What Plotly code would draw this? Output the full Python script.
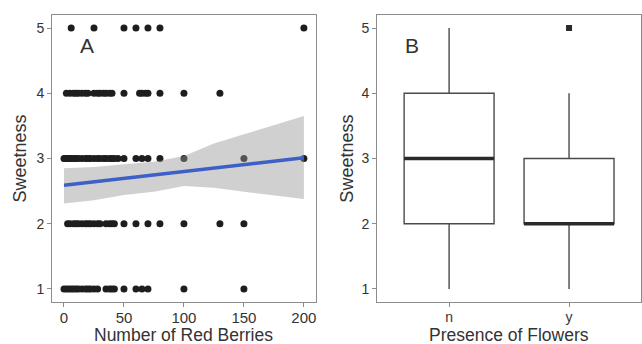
import plotly.graph_objects as go

# ---------------- data ----------------
# Panel A: Number of red berries at each sweetness level
sweet_levels = [5, 4, 3, 2, 1]
berries_s5 = [6, 25, 50, 60, 70, 80, 200]
berries_s4 = [2, 5, 8, 10, 12, 15, 18, 20, 25, 28, 30, 33, 35, 38, 40, 50, 63, 65, 68, 70, 80, 100, 130]
berries_s3 = [0, 1, 2, 3, 5, 6, 8, 10, 12, 15, 18, 20, 22, 25, 28, 30, 33, 35, 38, 40, 42, 45,
              50, 60, 65, 70, 80, 100, 150, 200]
berries_s2 = [3, 5, 8, 10, 12, 15, 18, 20, 22, 25, 28, 30, 35, 38, 40, 42, 50, 60, 70, 80, 100, 130, 150]
berries_s1 = [0, 2, 4, 6, 8, 10, 12, 15, 18, 20, 22, 25, 28, 35, 38, 40, 42, 50, 60, 65, 70, 100, 150]

# linear fit
fit_line_x = [0, 200]
fit_line_y = [2.59, 3.01]
band_x = [0, 25, 50, 75, 100, 125, 150, 175, 200]
band_upper = [2.85, 2.87, 2.91, 2.95, 3.04, 3.23, 3.37, 3.51, 3.65]
band_lower = [2.31, 2.36, 2.44, 2.49, 2.58, 2.55, 2.49, 2.44, 2.38]

# Panel B: box plot statistics
flower_cats = ["n", "y"]
box_min = [1, 1]
box_q1 = [2, 2]
box_median = [3, 2]
box_q3 = [4, 3]
box_max = [5, 4]
outlier_cat = ["y"]
outlier_val = [5]

x_ticks_a = [0, 50, 100, 150, 200]
y_ticks = [1, 2, 3, 4, 5]

# ---------------- styles ----------------
FONT = "Liberation Sans, Arial, sans-serif"
TEXT = "#333333"
BORDER = "#8c8c8c"
POINT = "#1e1e1e"

pts_x, pts_y = [], []
for lvl, vals in zip(sweet_levels, [berries_s5, berries_s4, berries_s3, berries_s2, berries_s1]):
    pts_x += vals
    pts_y += [lvl] * len(vals)

fig = go.Figure()

# scatter points
fig.add_trace(go.Scatter(x=pts_x, y=pts_y, mode="markers",
                         marker=dict(size=7, color=POINT, line=dict(width=0)),
                         xaxis="x", yaxis="y", showlegend=False, hoverinfo="skip"))
# confidence band
fig.add_trace(go.Scatter(x=band_x, y=band_lower, mode="lines", line=dict(width=0),
                         xaxis="x", yaxis="y", showlegend=False, hoverinfo="skip"))
fig.add_trace(go.Scatter(x=band_x, y=band_upper, mode="lines", line=dict(width=0),
                         fill="tonexty", fillcolor="rgba(150,150,150,0.45)",
                         xaxis="x", yaxis="y", showlegend=False, hoverinfo="skip"))
# fit line
fig.add_trace(go.Scatter(x=fit_line_x, y=fit_line_y, mode="lines",
                         line=dict(color="#3d5fc8", width=3.5),
                         xaxis="x", yaxis="y", showlegend=False, hoverinfo="skip"))

# box plots
BOX_W = 0.75
cat_pos = list(range(len(flower_cats)))
for i in cat_pos:
    fig.add_trace(go.Box(x=[i], q1=[box_q1[i]], median=[box_median[i]], q3=[box_q3[i]],
                         lowerfence=[box_min[i]], upperfence=[box_max[i]],
                         width=BOX_W, whiskerwidth=0, fillcolor="white",
                         line=dict(color="#4a4a4a", width=1.4), boxpoints=False,
                         xaxis="x2", yaxis="y2", showlegend=False, hoverinfo="skip"))
    fig.add_trace(go.Scatter(x=[i - BOX_W / 2, i + BOX_W / 2], y=[box_median[i]] * 2, mode="lines",
                             line=dict(color="#2a2a2a", width=3.5),
                             xaxis="x2", yaxis="y2", showlegend=False, hoverinfo="skip"))
fig.add_trace(go.Scatter(x=[flower_cats.index(c) for c in outlier_cat], y=outlier_val, mode="markers",
                         marker=dict(size=6, color="#2a2a2a", symbol="square"),
                         xaxis="x2", yaxis="y2", showlegend=False, hoverinfo="skip"))

axis_common = dict(showline=True, mirror=True, linecolor=BORDER, linewidth=1,
                   ticks="outside", ticklen=4, tickcolor=BORDER, tickwidth=1,
                   showgrid=False, zeroline=False, automargin=False)

XDOM_A = [0, 0.448]
XDOM_B = [0.552, 1]

fig.update_layout(
    width=642, height=344,
    margin=dict(l=52, r=1, t=15, b=42),
    paper_bgcolor="white", plot_bgcolor="white",
    font=dict(family=FONT, color=TEXT),
    xaxis=dict(domain=XDOM_A, range=[-10, 210], tickvals=x_ticks_a,
               tickfont=dict(size=15, color=TEXT), ticklabelstandoff=-2,
               anchor="y", **axis_common),
    yaxis=dict(domain=[0, 1], range=[0.8, 5.2], tickvals=y_ticks,
               tickfont=dict(size=14, color=TEXT), anchor="x", **axis_common),
    xaxis2=dict(domain=XDOM_B, range=[-0.6, 1.6], tickvals=cat_pos, ticktext=flower_cats,
                tickfont=dict(size=14, color=TEXT), ticklabelstandoff=-2,
                anchor="y2", **axis_common),
    yaxis2=dict(domain=[0, 1], range=[0.8, 5.2], tickvals=y_ticks,
                tickfont=dict(size=14, color=TEXT), anchor="x2", **axis_common),
    annotations=[
        dict(text="A", x=19, y=4.74, xref="x", yref="y", showarrow=False,
             font=dict(size=21, color=TEXT)),
        dict(text="B", x=-0.31, y=4.74, xref="x2", yref="y2", showarrow=False,
             font=dict(size=21, color=TEXT)),
        dict(text="Sweetness", x=XDOM_A[0], y=0.5, xref="paper", yref="paper",
             xanchor="center", yanchor="middle", xshift=-33, textangle=-90,
             showarrow=False, font=dict(size=18, color=TEXT)),
        dict(text="Sweetness", x=XDOM_B[0], y=0.5, xref="paper", yref="paper",
             xanchor="center", yanchor="middle", xshift=-31, textangle=-90,
             showarrow=False, font=dict(size=18, color=TEXT)),
        dict(text="Number of Red Berries", x=sum(XDOM_A) / 2, y=0, xref="paper", yref="paper",
             xanchor="center", yanchor="middle", yshift=-33,
             showarrow=False, font=dict(size=17.5, color=TEXT)),
        dict(text="Presence of Flowers", x=sum(XDOM_B) / 2, y=0, xref="paper", yref="paper",
             xanchor="center", yanchor="middle", yshift=-33,
             showarrow=False, font=dict(size=17.5, color=TEXT)),
    ],
)

fig.write_html("out.html", config={"displayModeBar": False},
               post_script="document.body.style.margin='0';document.body.style.overflow='hidden';")
